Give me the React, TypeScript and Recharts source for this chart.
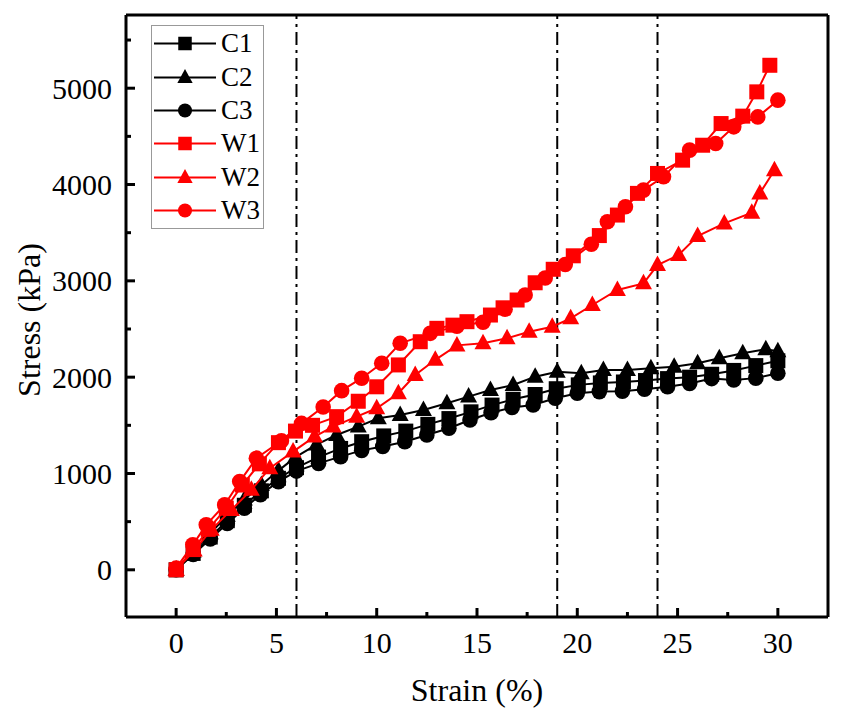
import React from "react";
import { ScatterChart, Scatter, XAxis, YAxis, ReferenceLine, Legend, Label } from "recharts";

// [strain %, stress kPa]
const C1: [number, number][] = [
  [0, 0], [0.85, 170], [1.7, 340], [2.55, 510], [3.4, 670], [4.25, 820], [5.1, 950], [6.0, 1060],
  [7.1, 1170], [8.2, 1260], [9.25, 1330], [10.35, 1390], [11.45, 1440], [12.55, 1510], [13.6, 1570],
  [14.7, 1640], [15.75, 1710], [16.8, 1770], [17.9, 1820], [18.95, 1880], [20.05, 1920], [21.15, 1940],
  [22.3, 1950], [23.4, 1965], [24.5, 1985], [25.6, 2000], [26.7, 2030], [27.8, 2070], [28.9, 2120], [30, 2170],
];
const C2: [number, number][] = [
  [0, 0], [0.85, 190], [1.7, 380], [2.55, 560], [3.4, 730], [4.25, 880], [5.1, 1030], [5.95, 1170],
  [7.0, 1300], [8.0, 1400], [9.08, 1487], [10.08, 1573], [11.17, 1608], [12.33, 1660], [13.5, 1729],
  [14.58, 1798], [15.67, 1867], [16.8, 1919], [17.9, 2005], [19.0, 2057], [20.2, 2040], [21.3, 2075],
  [22.5, 2075], [23.67, 2092], [24.83, 2109], [26.0, 2144], [27.08, 2196], [28.25, 2248], [29.4, 2290], [30, 2270],
];
const C3: [number, number][] = [
  [0, 0], [0.85, 160], [1.7, 320], [2.55, 480], [3.4, 640], [4.2, 780], [5.1, 915], [6.0, 1025],
  [7.1, 1105], [8.2, 1175], [9.25, 1240], [10.3, 1280], [11.4, 1330], [12.5, 1400], [13.6, 1470],
  [14.65, 1555], [15.7, 1630], [16.75, 1685], [17.8, 1711], [18.9, 1781], [20.0, 1833], [21.1, 1850],
  [22.25, 1855], [23.35, 1874], [24.5, 1900], [25.6, 1935], [26.7, 1985], [27.8, 1970], [28.9, 1990], [30, 2040],
];
const W1: [number, number][] = [
  [0, 0], [0.85, 210], [1.6, 420], [2.5, 640], [3.3, 880], [4.15, 1100], [5.1, 1320], [5.95, 1440],
  [6.8, 1500], [8.0, 1590], [9.08, 1750], [10.0, 1900], [11.08, 2127], [12.17, 2368], [13.0, 2507],
  [13.8, 2540], [14.5, 2576], [15.67, 2645], [16.3, 2720], [17.0, 2801], [17.9, 2980], [18.8, 3120],
  [19.8, 3260], [21.1, 3470], [22.0, 3683], [23.0, 3908], [24.0, 4115], [25.25, 4253], [26.25, 4408],
  [27.17, 4633], [28.25, 4710], [28.95, 4962], [29.6, 5238],
];
const W2: [number, number][] = [
  [0, 0], [0.9, 200], [1.75, 415], [2.75, 622], [3.75, 830], [4.67, 1055], [5.83, 1227], [6.9, 1383],
  [7.83, 1487], [9.0, 1590], [10.0, 1677], [11.08, 1833], [11.92, 2023], [12.92, 2180], [14.0, 2330],
  [15.3, 2352], [16.5, 2403], [17.6, 2472], [18.75, 2524], [19.67, 2611], [20.75, 2749], [22.0, 2905],
  [23.3, 2974], [24.0, 3164], [25.05, 3268], [26.0, 3465], [27.33, 3596], [28.7, 3707], [29.1, 3908], [29.83, 4149],
];
const W3: [number, number][] = [
  [0, 17], [0.83, 259], [1.5, 467], [2.42, 674], [3.17, 916], [4.0, 1159], [5.25, 1340], [6.25, 1520],
  [7.33, 1690], [8.25, 1860], [9.25, 1989], [10.25, 2144], [11.17, 2352], [12.67, 2455], [14.0, 2530],
  [15.3, 2570], [16.4, 2705], [17.4, 2853], [18.4, 3030], [19.4, 3170], [20.7, 3380], [21.5, 3613],
  [22.4, 3769], [23.3, 3942], [24.3, 4080], [25.6, 4357], [26.9, 4426], [27.8, 4599], [29.0, 4702], [30, 4876],
];

const xTicks = [0, 2.5, 5, 7.5, 10, 12.5, 15, 17.5, 20, 22.5, 25, 27.5, 30];
const yTicks = [0, 500, 1000, 1500, 2000, 2500, 3000, 3500, 4000, 4500, 5000, 5500];
const xDomain: [number, number] = [-2.5, 32.5];
const yDomain: [number, number] = [-490, 5760];
const guideStrains = [6, 19, 24];

const FONT = '"Times New Roman", "Liberation Serif", serif';
const RED = "#ff0000";

type Marker = "square" | "triangle" | "circle";

const series: { name: string; points: [number, number][]; color: string; marker: Marker }[] = [
  { name: "C1", points: C1, color: "#000000", marker: "square" },
  { name: "C2", points: C2, color: "#000000", marker: "triangle" },
  { name: "C3", points: C3, color: "#000000", marker: "circle" },
  { name: "W1", points: W1, color: RED, marker: "square" },
  { name: "W2", points: W2, color: RED, marker: "triangle" },
  { name: "W3", points: W3, color: RED, marker: "circle" },
];

function drawMarker(kind: Marker, cx: number, cy: number, color: string, s = 1) {
  if (kind === "square") {
    return <rect x={cx - 7.5 * s} y={cy - 7.5 * s} width={15 * s} height={15 * s} fill={color} />;
  }
  if (kind === "triangle") {
    const pts = `${cx},${cy - 9.5 * s} ${cx - 8.5 * s},${cy + 6 * s} ${cx + 8.5 * s},${cy + 6 * s}`;
    return <polygon points={pts} fill={color} />;
  }
  return <circle cx={cx} cy={cy} r={7.8 * s} fill={color} />;
}

const X_MARGIN = 15;
const Y_MARGIN = 14;

function XTick(props: any) {
  const { x, y, payload } = props;
  const v = payload.value;
  const major = v % 5 === 0;
  const base = y - X_MARGIN;
  return (
    <g>
      <line x1={x} x2={x} y1={base} y2={base - (major ? 9 : 5)} stroke="#000" strokeWidth={3} />
      {major && (
        <text x={x} y={y} dy="0.71em" textAnchor="middle" fontFamily={FONT} fontSize={30} fill="#000">
          {v}
        </text>
      )}
    </g>
  );
}

function YTick(props: any) {
  const { x, y, payload } = props;
  const v = payload.value;
  const major = v % 1000 === 0;
  const base = x + Y_MARGIN;
  return (
    <g>
      <line x1={base} x2={base + (major ? 9 : 5)} y1={y} y2={y} stroke="#000" strokeWidth={3} />
      {major && (
        <text x={x} y={y} dy="0.355em" textAnchor="end" fontFamily={FONT} fontSize={30} fill="#000">
          {v}
        </text>
      )}
    </g>
  );
}

function LegendBox() {
  return (
    <div
      style={{
        width: 111,
        height: 201,
        border: "1.5px solid #999",
        background: "#fff",
        boxSizing: "content-box",
        paddingTop: 1,
      }}
    >
      {series.map((s) => (
        <div key={s.name} style={{ height: 33.4, display: "flex", alignItems: "center" }}>
          <svg width={66} height={33} style={{ display: "block" }}>
            <line x1={2} x2={64} y1={16.5} y2={16.5} stroke={s.color} strokeWidth={2} />
            {drawMarker(s.marker, 33, 16.5, s.color, 0.9)}
          </svg>
          <span style={{ fontFamily: FONT, fontSize: 27, color: "#000", marginLeft: 3, lineHeight: "33px" }}>
            {s.name}
          </span>
        </div>
      ))}
    </div>
  );
}

export default function App() {
  return (
    <ScatterChart width={840} height={710} margin={{ top: 7, right: 20, bottom: 0, left: 0 }}>
      <XAxis
        dataKey="x"
        type="number"
        domain={xDomain}
        ticks={xTicks}
        interval={0}
        allowDataOverflow
        height={101}
        tickSize={0}
        tickMargin={X_MARGIN}
        tickLine={false}
        axisLine={{ stroke: "#000", strokeWidth: 3 }}
        tick={<XTick />}
      >
        <Label
          content={(p: any) => {
            const vb = p.viewBox || { x: 118, y: 609, width: 702 };
            return (
              <text x={vb.x + vb.width / 2} y={vb.y + 84} textAnchor="middle" fontFamily={FONT} fontSize={32} fill="#000">
                Strain (%)
              </text>
            );
          }}
        />
      </XAxis>
      <YAxis
        dataKey="y"
        type="number"
        domain={yDomain}
        ticks={yTicks}
        interval={0}
        allowDataOverflow
        width={118}
        tickSize={0}
        tickMargin={Y_MARGIN}
        tickLine={false}
        axisLine={{ stroke: "#000", strokeWidth: 3 }}
        tick={<YTick />}
      >
        <Label
          content={(p: any) => {
            const vb = p.viewBox || { x: 0, y: 7, height: 602 };
            const cx = vb.x + 21;
            const cy = vb.y + vb.height / 2 + 4;
            return (
              <text
                x={cx}
                y={cy}
                dy="0.35em"
                transform={`rotate(-90 ${cx} ${cy})`}
                textAnchor="middle"
                fontFamily={FONT}
                fontSize={32}
                fill="#000"
              >
                Stress (kPa)
              </text>
            );
          }}
        />
      </YAxis>
      <ReferenceLine y={yDomain[1]} stroke="#000" strokeWidth={3} />
      <ReferenceLine x={xDomain[1]} stroke="#000" strokeWidth={3} />
      {guideStrains.map((g) => (
        <ReferenceLine key={g} x={g} stroke="#000" strokeWidth={2} strokeDasharray="13 5 3 5" />
      ))}
      {series.map((s) => (
        <Scatter
          key={s.name}
          name={s.name}
          data={s.points.map(([x, y]) => ({ x, y }))}
          fill={s.color}
          line={{ stroke: s.color, strokeWidth: 2 }}
          lineType="joint"
          isAnimationActive={false}
          shape={(p: any) => drawMarker(s.marker, p.cx, p.cy, s.color)}
        />
      ))}
      <Legend
        layout="horizontal"
        verticalAlign="middle"
        align="center"
        content={() => <LegendBox />}
        wrapperStyle={{ position: "absolute", left: 143, top: 17, width: "auto" }}
      />
    </ScatterChart>
  );
}
